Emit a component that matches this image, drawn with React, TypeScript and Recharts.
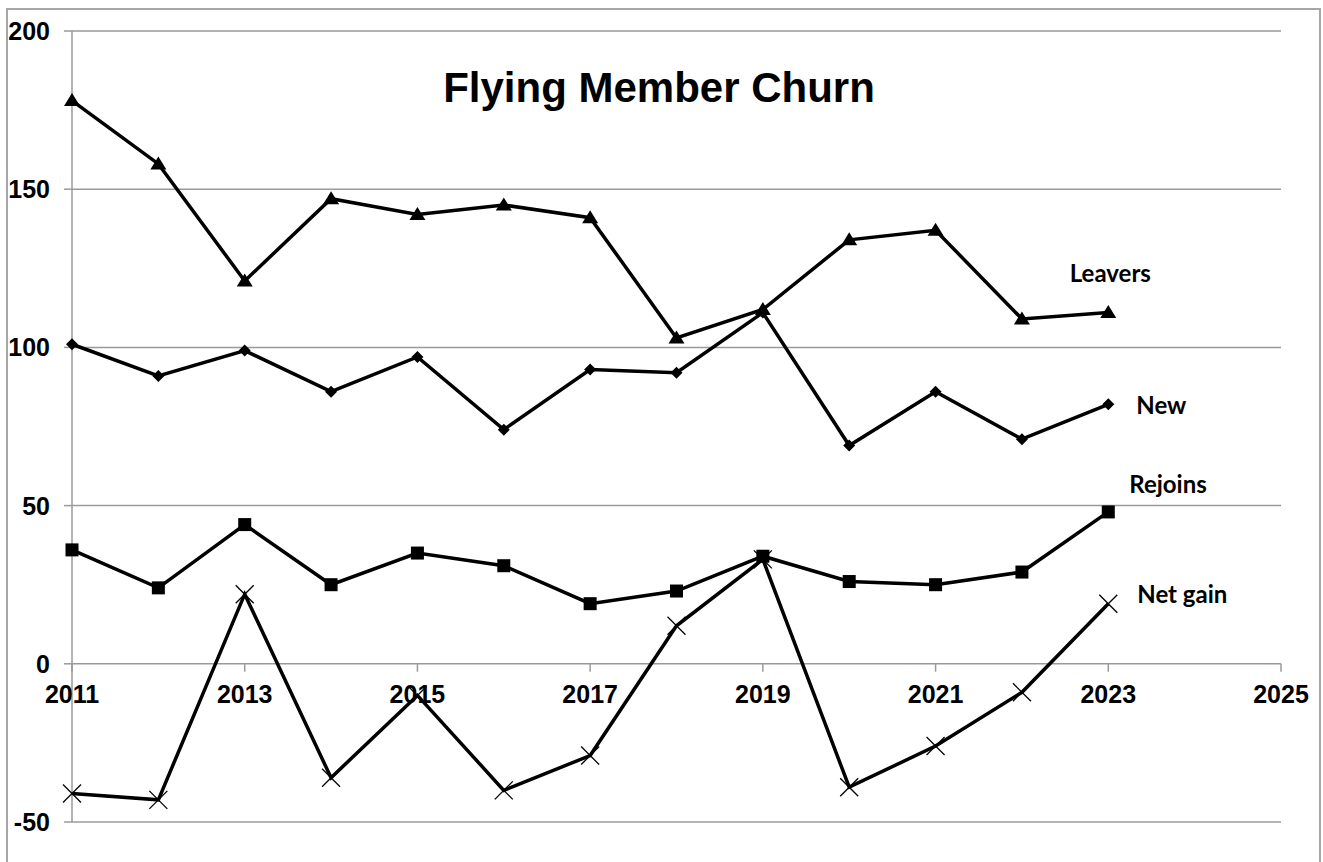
import { LineChart, Line, XAxis, YAxis, CartesianGrid, ReferenceDot, ReferenceLine } from 'recharts';

const years = [2011, 2012, 2013, 2014, 2015, 2016, 2017, 2018, 2019, 2020, 2021, 2022, 2023];
const leavers = [178, 158, 121, 147, 142, 145, 141, 103, 112, 134, 137, 109, 111];
const newMembers = [101, 91, 99, 86, 97, 74, 93, 92, 111, 69, 86, 71, 82];
const rejoins = [36, 24, 44, 25, 35, 31, 19, 23, 34, 26, 25, 29, 48];
const netGain = [-41, -43, 22, -36, -10, -40, -29, 12, 33, -39, -26, -9, 19];

const xTicks = [2011, 2013, 2015, 2017, 2019, 2021, 2023, 2025];
const yTicks = [-50, 0, 50, 100, 150, 200];

const data = years.map((year, i) => ({
  year,
  leavers: leavers[i],
  newMembers: newMembers[i],
  rejoins: rejoins[i],
  netGain: netGain[i],
}));

const AXIS_FONT = "'Liberation Sans', Arial, sans-serif";
const LABEL_FONT = "Lato, 'Open Sans', sans-serif";
const GRID = '#9a9a9a';

const Triangle = (props: any) => {
  const { cx, cy } = props;
  if (cx == null || cy == null) return null;
  return <polygon points={`${cx},${cy - 7.5} ${cx + 8},${cy + 5.5} ${cx - 8},${cy + 5.5}`} fill="#000" />;
};

const Diamond = (props: any) => {
  const { cx, cy } = props;
  if (cx == null || cy == null) return null;
  return <polygon points={`${cx},${cy - 6} ${cx + 6},${cy} ${cx},${cy + 6} ${cx - 6},${cy}`} fill="#000" />;
};

const Square = (props: any) => {
  const { cx, cy } = props;
  if (cx == null || cy == null) return null;
  return <rect x={cx - 6.5} y={cy - 6.5} width={13} height={13} fill="#000" />;
};

const Cross = (props: any) => {
  const { cx, cy } = props;
  if (cx == null || cy == null) return null;
  return (
    <g stroke="#000" strokeWidth={1.3}>
      <line x1={cx - 9} y1={cy - 9} x2={cx + 9} y2={cy + 9} />
      <line x1={cx - 9} y1={cy + 9} x2={cx + 9} y2={cy - 9} />
    </g>
  );
};

// label on the last point only
const endLabel = (text: string, dx: number, dy: number, anchor: string) => (props: any) => {
  const { x, y, index } = props;
  if (index !== years.length - 1) return null;
  return (
    <text x={x + dx} y={y + dy} textAnchor={anchor} fontFamily={LABEL_FONT} fontWeight="bold" fontSize={24} fill="#000">
      {text}
    </text>
  );
};

const renderYTick = (props: any) => {
  const { x, y, payload } = props;
  return (
    <text
      x={x}
      y={y}
      dy="0.36em"
      textAnchor="end"
      style={{ fontFamily: AXIS_FONT, fontWeight: 700, fontSize: 25 }}
      fill="#000"
    >
      {payload.value}
    </text>
  );
};

const XTickLabel = (props: any) => {
  const { viewBox, value } = props;
  if (!viewBox) return null;
  const cx = viewBox.x + (viewBox.width || 0) / 2;
  const cy = viewBox.y + (viewBox.height || 0) / 2;
  return (
    <text
      x={cx}
      y={cy + 39}
      textAnchor="middle"
      style={{ fontFamily: AXIS_FONT, fontWeight: 700, fontSize: 25 }}
      fill="#000"
    >
      {value}
    </text>
  );
};

export default function App() {
  return (
    <div style={{ position: 'absolute', left: 0, top: 0, width: 1323, height: 862, background: '#fff', overflow: 'hidden' }}>
      <div
        style={{
          position: 'absolute',
          left: 6,
          top: 8,
          width: 1315,
          height: 860,
          border: '2px solid #a6a6a6',
          boxSizing: 'border-box',
        }}
      />
      <svg style={{ position: 'absolute', left: 0, top: 0 }} width={1323} height={130}>
        <text x={659} y={102} textAnchor="middle" fontFamily={AXIS_FONT} fontWeight="bold" fontSize={42} fill="#000">
          Flying Member Churn
        </text>
      </svg>
      <div style={{ position: 'absolute', left: 0, top: 0 }}>
        <LineChart width={1323} height={862} data={data} margin={{ top: 31, right: 42, bottom: 40, left: 0 }}>
          <CartesianGrid horizontal vertical={false} stroke={GRID} strokeWidth={1.5} />
          <XAxis type="number" dataKey="year" domain={[2011, 2025]} ticks={xTicks} hide />
          <YAxis
            type="number"
            domain={[-50, 200]}
            ticks={yTicks}
            width={72}
            interval={0}
            axisLine={{ stroke: GRID, strokeWidth: 1.5 }}
            tickLine={{ stroke: GRID, strokeWidth: 1.5 }}
            tickSize={8}
            tickMargin={14}
            tick={renderYTick}
          />
          {xTicks.map((yr) => (
            <ReferenceLine
              key={`t${yr}`}
              segment={[
                { x: yr, y: 0 },
                { x: yr, y: -2.5 },
              ]}
              stroke={GRID}
              strokeWidth={1.5}
            />
          ))}
          {xTicks.map((yr) => (
            <ReferenceDot
              key={`l${yr}`}
              x={yr}
              y={0}
              r={0}
              fill="none"
              stroke="none"
              label={<XTickLabel value={yr} />}
            />
          ))}
          <Line
            dataKey="leavers"
            stroke="#000"
            strokeWidth={3.5}
            dot={<Triangle />}
            activeDot={false}
            isAnimationActive={false}
            label={endLabel('Leavers', 2, -31, 'middle')}
          />
          <Line
            dataKey="newMembers"
            stroke="#000"
            strokeWidth={3.5}
            dot={<Diamond />}
            activeDot={false}
            isAnimationActive={false}
            label={endLabel('New', 28, 10, 'start')}
          />
          <Line
            dataKey="rejoins"
            stroke="#000"
            strokeWidth={3.5}
            dot={<Square />}
            activeDot={false}
            isAnimationActive={false}
            label={endLabel('Rejoins', 21, -19, 'start')}
          />
          <Line
            dataKey="netGain"
            stroke="#000"
            strokeWidth={3.5}
            dot={<Cross />}
            activeDot={false}
            isAnimationActive={false}
            label={endLabel('Net gain', 29, -1, 'start')}
          />
        </LineChart>
      </div>
    </div>
  );
}
